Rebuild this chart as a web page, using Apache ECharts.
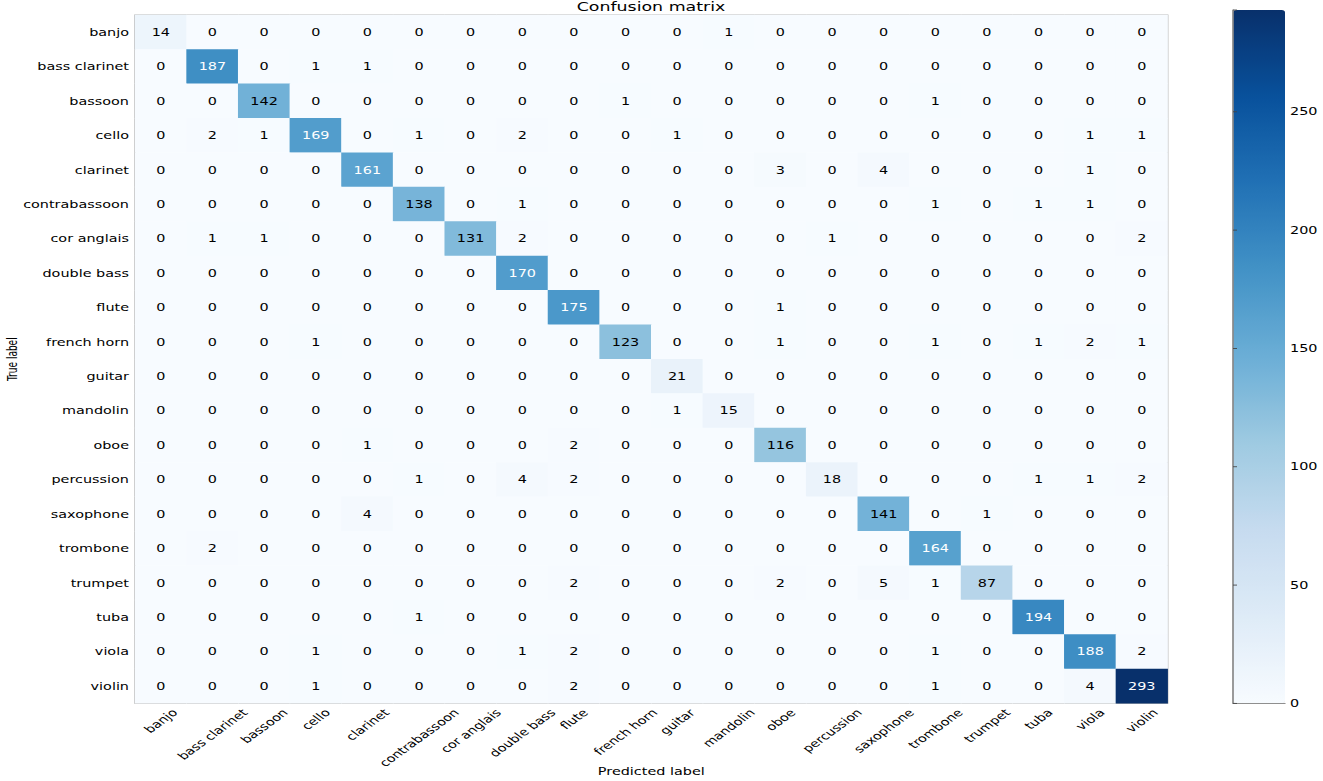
<!DOCTYPE html>
<html>
<head>
<meta charset="utf-8">
<script src="https://cdn.jsdelivr.net/npm/echarts@6/dist/echarts.min.js"></script>
<style>
html,body{margin:0;padding:0;background:#fff;overflow:hidden;}
#wrap{position:relative;width:1323px;height:781px;overflow:hidden;}
#c{position:absolute;left:0;top:0;transform-origin:0 0;}
</style>
</head>
<body>
<div id="wrap"><div id="c"></div></div>
<script>
var labels = ['banjo','bass clarinet','bassoon','cello','clarinet','contrabassoon','cor anglais','double bass','flute','french horn','guitar','mandolin','oboe','percussion','saxophone','trombone','trumpet','tuba','viola','violin'];
var matrix = [
  [14,0,0,0,0,0,0,0,0,0,0,1,0,0,0,0,0,0,0,0],
  [0,187,0,1,1,0,0,0,0,0,0,0,0,0,0,0,0,0,0,0],
  [0,0,142,0,0,0,0,0,0,1,0,0,0,0,0,1,0,0,0,0],
  [0,2,1,169,0,1,0,2,0,0,1,0,0,0,0,0,0,0,1,1],
  [0,0,0,0,161,0,0,0,0,0,0,0,3,0,4,0,0,0,1,0],
  [0,0,0,0,0,138,0,1,0,0,0,0,0,0,0,1,0,1,1,0],
  [0,1,1,0,0,0,131,2,0,0,0,0,0,1,0,0,0,0,0,2],
  [0,0,0,0,0,0,0,170,0,0,0,0,0,0,0,0,0,0,0,0],
  [0,0,0,0,0,0,0,0,175,0,0,0,1,0,0,0,0,0,0,0],
  [0,0,0,1,0,0,0,0,0,123,0,0,1,0,0,1,0,1,2,1],
  [0,0,0,0,0,0,0,0,0,0,21,0,0,0,0,0,0,0,0,0],
  [0,0,0,0,0,0,0,0,0,0,1,15,0,0,0,0,0,0,0,0],
  [0,0,0,0,1,0,0,0,2,0,0,0,116,0,0,0,0,0,0,0],
  [0,0,0,0,0,1,0,4,2,0,0,0,0,18,0,0,0,1,1,2],
  [0,0,0,0,4,0,0,0,0,0,0,0,0,0,141,0,1,0,0,0],
  [0,2,0,0,0,0,0,0,0,0,0,0,0,0,0,164,0,0,0,0],
  [0,0,0,0,0,0,0,0,2,0,0,0,2,0,5,1,87,0,0,0],
  [0,0,0,0,0,1,0,0,0,0,0,0,0,0,0,0,0,194,0,0],
  [0,0,0,1,0,0,0,1,2,0,0,0,0,0,0,1,0,0,188,2],
  [0,0,0,1,0,0,0,0,2,0,0,0,0,0,0,1,0,0,4,293]
];
var colorbarTicks = [0,50,100,150,200,250];

// The figure is drawn on a stretched canvas (wide, short text like the reference).
var SX = 1.2, SY = 0.87;
var W = 1323, H = 781;
function X(px) { return px / SX; }
function Y(py) { return py / SY; }
var dom = document.getElementById('c');
dom.style.width = X(W) + 'px';
dom.style.height = Y(H) + 'px';
dom.style.transform = 'scale(' + SX + ',' + SY + ')';

var maxV = 0;
matrix.forEach(function(r){ r.forEach(function(v){ if (v > maxV) maxV = v; }); });
var thresh = maxV / 2;
var data = [];
for (var i = 0; i < matrix.length; i++) {
  for (var j = 0; j < matrix[i].length; j++) {
    var v = matrix[i][j];
    data.push({ value: [j, i, v], label: { color: v > thresh ? '#ffffff' : '#000000' } });
  }
}
var FONT = 'DejaVu Sans';
var FS = 12;
var chart = echarts.init(dom, null, { renderer: 'svg' });
chart.setOption({
  animation: false,
  backgroundColor: '#ffffff',
  title: {
    text: 'Confusion matrix', left: X(651), top: Y(7) - 7.5, textAlign: 'center', padding: 0,
    textStyle: { fontFamily: FONT, fontSize: 14.5, fontWeight: 'normal', color: '#000' }
  },
  grid: [
    { left: X(135), right: X(W - 1167), top: Y(15), bottom: Y(H - 703), show: true, borderColor: '#aaa', borderWidth: 1.3, backgroundColor: 'transparent', outerBoundsMode: 'none', containLabel: false },
    { left: X(1233), width: X(52), top: Y(10), bottom: Y(H - 703), show: false, outerBoundsMode: 'none', containLabel: false }
  ],
  xAxis: [
    {
      type: 'category', data: labels, gridIndex: 0, position: 'bottom',
      axisLine: { show: false },
      axisTick: { alignWithLabel: true, length: Y(4), lineStyle: { color: '#444' } },
      axisLabel: { show: false, interval: 0 },
      splitLine: { show: false }
    },
    {
      type: 'value', gridIndex: 1, position: 'bottom', min: 0, max: 1, z: 10,
      axisLine: { show: true, lineStyle: { color: '#888', width: 1 } },
      axisTick: { show: false }, axisLabel: { show: false }, splitLine: { show: false }
    },
    {
      type: 'value', gridIndex: 1, position: 'top', min: 0, max: 1, z: 10,
      axisLine: { show: true, lineStyle: { color: '#888', width: 1 } },
      axisTick: { show: false }, axisLabel: { show: false }, splitLine: { show: false }
    }
  ],
  yAxis: [
    {
      type: 'category', data: labels, gridIndex: 0, inverse: true,
      axisLine: { show: false },
      axisTick: { alignWithLabel: true, length: X(4), lineStyle: { color: '#444' } },
      axisLabel: { fontFamily: FONT, fontSize: FS, color: '#000', margin: X(6), interval: 0 },
      splitLine: { show: false }
    },
    {
      type: 'value', gridIndex: 1, min: 0, max: maxV, interval: 50, position: 'right', z: 10,
      axisLine: { show: true, lineStyle: { color: '#888', width: 1 } },
      axisTick: { show: true, length: X(4), lineStyle: { color: '#444' } },
      axisLabel: { fontFamily: FONT, fontSize: FS, color: '#000', margin: X(5),
        formatter: function(v){ return colorbarTicks.indexOf(v) >= 0 ? String(v) : ''; } },
      splitLine: { show: false }
    },
    {
      type: 'value', gridIndex: 1, min: 0, max: maxV, position: 'left', z: 10,
      axisLine: { show: true, lineStyle: { color: '#888', width: 1 } },
      axisTick: { show: false }, axisLabel: { show: false }, splitLine: { show: false }
    }
  ],
  visualMap: {
    type: 'continuous', min: 0, max: maxV, calculable: false, seriesIndex: 0,
    orient: 'vertical', left: X(1233), top: Y(10), itemWidth: X(52), itemHeight: Y(693),
    text: ['', ''], showLabel: false, padding: 0,
    inRange: { color: ['#f7fbff','#deebf7','#c6dbef','#9ecae1','#6baed6','#4292c6','#2171b5','#08519c','#08306b'] }
  },
  series: [{
    type: 'heatmap', xAxisIndex: 0, yAxisIndex: 0, data: data,
    label: { show: true, fontFamily: FONT, fontSize: FS, formatter: function(p){ return p.value[2]; } },
    itemStyle: { borderWidth: 0 },
    emphasis: { disabled: true }
  }]
});

// axis names and x tick labels (rotated 45deg, centred under each tick, like matplotlib ha='center')
var gridRect = chart.getModel().getComponent('grid', 0).coordinateSystem.getRect();
var cx = gridRect.x + gridRect.width / 2;
var cy = gridRect.y + gridRect.height / 2;
var g = [
  { type: 'text', id: 'xname', x: cx, y: Y(771), z: 20, silent: true,
    style: { text: 'Predicted label', fontFamily: FONT, fontSize: FS, fill: '#000', textAlign: 'center', textVerticalAlign: 'middle' } },
  { type: 'text', id: 'yname', x: X(12), y: cy, rotation: Math.PI / 2, z: 20, silent: true,
    style: { text: 'True label', fontFamily: '"Liberation Sans Narrow", "DejaVu Sans Condensed", sans-serif', fontSize: 11.5, fill: '#000', textAlign: 'center', textVerticalAlign: 'middle' } }
];
var ctx = document.createElement('canvas').getContext('2d');
ctx.font = FS + 'px "' + FONT + '"';
var s = Math.SQRT1_2;
var topY = Y(707);
labels.forEach(function(name, k){
  var px = chart.convertToPixel({ xAxisIndex: 0 }, name);
  var w = ctx.measureText(name).width;
  var bh = (w + FS) * s;
  g.push({ type: 'text', id: 'xl' + k, x: px, y: topY + bh / 2, rotation: Math.PI / 4, z: 20, silent: true,
    style: { text: name, fontFamily: FONT, fontSize: FS, fill: '#000', textAlign: 'center', textVerticalAlign: 'middle' } });
});
chart.setOption({ graphic: g });
</script>
</body>
</html>
